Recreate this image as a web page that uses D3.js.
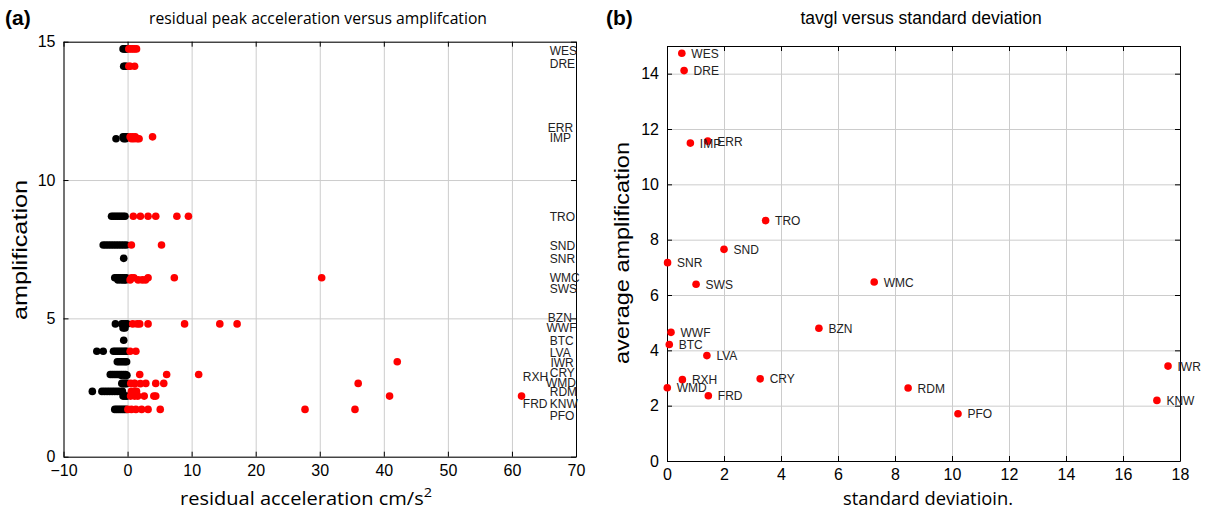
<!DOCTYPE html>
<html>
<head>
<meta charset="utf-8">
<script src="https://cdn.jsdelivr.net/npm/d3@7"></script>
<style>
  body { margin: 0; background: #fff; }
  svg { font-family: "Liberation Sans", Arial, Helvetica, sans-serif; }
  .grid line { stroke: #cccccc; stroke-width: 1; }
  .grid path { display: none; }
  .ax path, .ax line { stroke: #000; }
  .ax text { font-size: 16px; fill: #000; }
</style>
</head>
<body>
<svg id="chart" width="1210" height="515"></svg>
<script>
const STATIONS = ['WES','DRE','ERR','IMP','TRO','SND','SNR','WMC','SWS','BZN','WWF','BTC','LVA','IWR','CRY','RXH','WMD','RDM','FRD','KNW','PFO']

// panel (b): standard deviation / average amplification per station
const STD_DEV = [0.52,0.60,1.43,0.82,3.46,2.00,0.02,7.27,1.02,5.33,0.14,0.08,1.40,17.58,3.27,0.54,0.01,8.46,1.45,17.19,10.21]
const AVG_AMP = [14.74,14.11,11.56,11.49,8.69,7.65,7.17,6.47,6.39,4.80,4.65,4.21,3.81,3.43,2.97,2.94,2.65,2.64,2.36,2.19,1.71]

// panel (a): station name placement (data units)
const LABEL_AMP = [14.67,14.19,11.89,11.54,8.67,7.63,7.14,6.47,6.08,5.02,4.66,4.18,3.77,3.40,3.04,2.87,2.67,2.33,1.93,1.93,1.47]
const LABEL_X = [65.9,65.9,65.6,65.9,65.9,65.9,65.9,65.9,65.9,65.6,65.4,65.9,65.9,66.0,65.9,61.7,65.3,65.9,61.7,65.9,65.9]

// panel (a): residual peak acceleration, per station (cm/s^2)
const RESIDUALS = [
  [-0.7,-0.5,-0.3,-0.15,0.2,0.5,0.8,1.1,1.4],
  [-0.6,-0.4,-0.2,0.2,0.4,1.1],
  [-0.7,-0.4,-0.1,0.4,0.8,1.2,3.9],
  [-1.8,-0.6,-0.3,0.6,1.0,1.5,1.8],
  [-2.5,-2.2,-1.9,-1.6,-1.3,-1.0,-0.7,-0.4,0.9,2.0,3.2,4.4,7.7,9.5],
  [-3.8,-3.4,-3.0,-2.6,-2.2,-1.8,-1.4,-1.0,-0.6,-0.2,0.6,5.3],
  [-0.6],
  [-2.0,-1.7,-1.4,-1.1,-0.8,-0.5,-0.2,0.6,1.0,3.2,7.3,30.3],
  [-1.5,-1.0,-0.6,-0.3,0.4,1.65,2.3,2.8],
  [-1.9,-0.9,-0.6,-0.3,-0.05,0.8,1.5,1.9,3.2,8.9,14.4,17.1],
  [-0.7,-0.4],
  [-0.6],
  [-4.8,-3.8,-2.2,-1.9,-1.6,-1.3,-1.0,-0.7,-0.4,-0.15,0.4,1.3],
  [-1.6,-1.3,-1.0,-0.7,-0.4,-0.15,42.1],
  [-2.7,-2.4,-2.1,-1.8,-1.5,-1.2,-0.9,-0.6,-0.3,1.9,6.1,11.1],
  [-1.0,-0.5,-0.1],
  [-0.9,-0.6,-0.3,-0.05,0.5,1.1,2.85,4.4,5.65,36.0],
  [-0.7,-0.3,1.1,2.0],
  [-5.5,-4.0,-3.6,-3.2,-2.8,-2.4,-2.0,-1.6,-1.2,-0.8,0.6,1.1,1.4],
  [-0.7,-0.4,-0.1,0.47,1.1,1.6,2.6,4.1,4.4,40.9,61.5],
  [-2.0,-1.7,-1.4,-1.1,-0.8,-0.5,-0.2,0.05,0.6,1.3,2.2,3.2,5.1,27.7,35.5]
]

const A_XTICKS = [-10,0,10,20,30,40,50,60,70]
const A_YTICKS = [0,5,10,15]
const B_XTICKS = [0,2,4,6,8,10,12,14,16,18]
const B_YTICKS = [0,2,4,6,8,10,12,14]

const svg = d3.select('#chart')

const frame = (x, y, xTicks, yTicks) => {
  const [x0, x1] = x.range()
  const [y0, y1] = y.range()
  const g = svg.append('g')
  g.append('g').attr('class', 'grid').attr('transform', `translate(0,${y0})`)
    .call(d3.axisBottom(x).tickValues(xTicks).tickSize(-(y0 - y1)).tickFormat(''))
  g.append('g').attr('class', 'grid').attr('transform', `translate(${x0},0)`)
    .call(d3.axisLeft(y).tickValues(yTicks).tickSize(-(x1 - x0)).tickFormat(''))
  g.append('g').attr('class', 'ax').attr('transform', `translate(0,${y0})`)
    .call(d3.axisBottom(x).tickValues(xTicks).tickSizeInner(-5).tickSizeOuter(0).tickPadding(8))
  g.append('g').attr('class', 'ax').attr('transform', `translate(0,${y1})`)
    .call(d3.axisTop(x).tickValues(xTicks).tickSizeInner(-5).tickSizeOuter(0).tickFormat(''))
  g.append('g').attr('class', 'ax').attr('transform', `translate(${x0},0)`)
    .call(d3.axisLeft(y).tickValues(yTicks).tickSizeInner(-5).tickSizeOuter(0).tickPadding(8))
  g.append('g').attr('class', 'ax').attr('transform', `translate(${x1},0)`)
    .call(d3.axisRight(y).tickValues(yTicks).tickSizeInner(-5).tickSizeOuter(0).tickFormat(''))
  return g
}

const text = (str, x, y, opts = {}) => {
  const t = svg.append('text')
    .attr('x', x).attr('y', y)
    .attr('text-anchor', opts.anchor || 'middle')
    .attr('font-size', opts.size || 16)
    .attr('font-weight', opts.weight || 'normal')
    .attr('fill', opts.fill || '#000')
    .attr('transform', opts.rotate ? `rotate(-90,${x},${y})` : null)
    .text(str)
  if (opts.family) t.attr('font-family', opts.family)
  if (opts.len) t.attr('textLength', opts.len).attr('lengthAdjust', 'spacingAndGlyphs')
  return t
}

// ---- panel (a)
const xa = d3.scaleLinear().domain([-10, 70]).range([63.5, 576])
const ya = d3.scaleLinear().domain([0, 15]).range([456.7, 41.7])
frame(xa, ya, A_XTICKS, A_YTICKS)

const pts = RESIDUALS.flatMap((r, i) => r.map(v => ({ v, amp: AVG_AMP[i] })))
const dotsA = svg.append('g')
dotsA.selectAll('circle.neg').data(pts.filter(d => d.v < 0)).join('circle')
  .attr('cx', d => xa(d.v)).attr('cy', d => ya(d.amp)).attr('r', 3.8).attr('fill', '#000')
dotsA.selectAll('circle.pos').data(pts.filter(d => d.v >= 0)).join('circle')
  .attr('cx', d => xa(d.v)).attr('cy', d => ya(d.amp)).attr('r', 3.8).attr('fill', '#ff0000')

svg.append('g').selectAll('text').data(STATIONS).join('text')
  .attr('x', (d, i) => xa(LABEL_X[i]))
  .attr('y', (d, i) => ya(LABEL_AMP[i]))
  .attr('dy', '0.35em')
  .attr('font-size', 12)
  .attr('fill', '#222')
  .text(d => d)

const HUMANIST = '"Open Sans", "Noto Sans", sans-serif'
text('residual peak acceleration versus amplifcation', 318, 24, { size: 17, family: HUMANIST, len: 338 })
text('(a)', 5, 25, { anchor: 'start', size: 21, weight: 'bold' })
text('amplification', 27, 250, { size: 20, rotate: true, len: 140 })
const xl = text('residual acceleration cm/s', 306, 505, { size: 18, family: HUMANIST, len: 252 })
xl.append('tspan').attr('dy', -8).attr('font-size', 13).text('2')

// ---- panel (b)
const xb = d3.scaleLinear().domain([0, 18]).range([667, 1180])
const yb = d3.scaleLinear().domain([0, 15]).range([461, 46])
frame(xb, yb, B_XTICKS, B_YTICKS)

const gb = svg.append('g')
gb.selectAll('circle').data(STATIONS).join('circle')
  .attr('cx', (d, i) => xb(STD_DEV[i])).attr('cy', (d, i) => yb(AVG_AMP[i]))
  .attr('r', 3.8).attr('fill', '#ff0000')
gb.selectAll('text').data(STATIONS).join('text')
  .attr('x', (d, i) => xb(STD_DEV[i]) + 9.5)
  .attr('y', (d, i) => yb(AVG_AMP[i]))
  .attr('dy', '0.38em')
  .attr('font-size', 12)
  .attr('fill', '#222')
  .text(d => d)

text('tavgl versus standard deviation', 921, 24, { size: 17.5 })
text('(b)', 606, 25, { anchor: 'start', size: 21, weight: 'bold' })
text('average amplification', 629, 253, { size: 20, rotate: true, len: 222 })
text('standard deviatioin.', 928, 505, { size: 18, family: HUMANIST, len: 170 })
</script>
</body>
</html>
